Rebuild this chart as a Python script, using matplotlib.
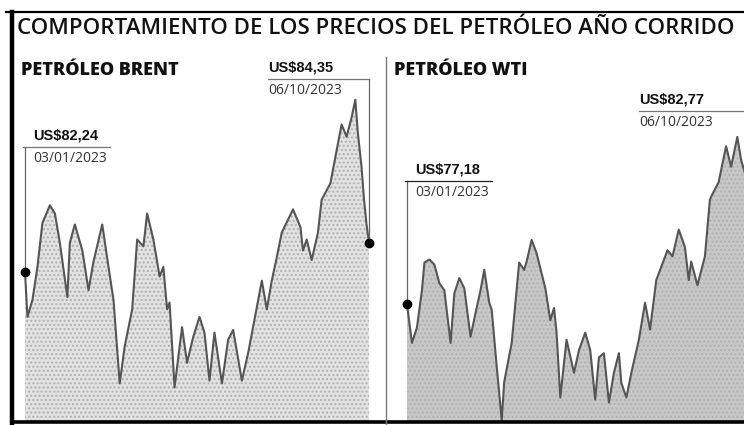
import matplotlib
matplotlib.use('Agg')
import matplotlib.pyplot as plt
from matplotlib.lines import Line2D
from matplotlib.transforms import blended_transform_factory

plt.rcParams['font.family'] = ['Open Sans', 'DejaVu Sans']

title = 'COMPORTAMIENTO DE LOS PRECIOS DEL PETRÓLEO AÑO CORRIDO'

# days counted from 03/01/2023, prices in US$ per barrel
brent_days = [0, 2, 6, 10, 14, 20, 24, 28, 34, 36, 40, 46, 51, 55, 62, 67, 71, 76, 80, 86,
              90, 95, 98, 103, 108, 111, 114, 116, 120, 126, 130, 135, 140, 144, 148, 152,
              158, 163, 167, 174, 179, 184, 190, 194, 198, 202, 206, 215, 221, 223, 226,
              230, 235, 238, 245, 250, 254, 258, 262, 265, 267, 270, 272, 274, 276]
brent_usd = [82.24, 78.95, 80.19, 82.6, 85.8, 87.1, 86.5, 84.35, 80.4, 84.35, 85.7, 83.8,
             80.9, 83.0, 85.7, 82.6, 80.2, 74.1, 76.8, 79.5, 84.6, 84.1, 86.5, 84.6, 81.9,
             82.6, 79.5, 80.0, 73.8, 78.2, 75.6, 77.5, 78.95, 77.8, 74.3, 77.8, 74.1, 77.3,
             78.0, 74.3, 76.3, 78.7, 81.6, 79.5, 81.6, 83.3, 85.1, 86.8, 85.5, 83.8, 84.6,
             83.1, 85.1, 87.5, 88.7, 91.1, 93.0, 92.1, 93.5, 94.8, 92.4, 89.9, 87.5, 85.7,
             84.35]

wti_days = [0, 4, 8, 12, 14, 18, 22, 26, 30, 35, 38, 42, 46, 51, 55, 59, 62, 66, 68, 72,
            76, 78, 84, 90, 94, 96, 100, 104, 111, 115, 118, 120, 123, 128, 134, 138, 143,
            147, 151, 154, 158, 162, 166, 170, 172, 176, 180, 186, 191, 195, 200, 209, 213,
            218, 223, 226, 228, 233, 239, 243, 244, 250, 256, 260, 265, 268, 272, 274, 276]
wti_usd = [77.18, 73.4, 74.9, 78.5, 81.2, 81.5, 81.0, 79.2, 78.5, 73.4, 78.2, 79.7, 78.7,
           74.0, 76.3, 78.5, 80.5, 77.3, 76.6, 71.1, 65.9, 69.6, 73.4, 81.2, 80.5, 81.3,
           83.4, 82.1, 78.7, 75.6, 76.8, 74.4, 68.1, 73.7, 70.5, 72.7, 74.4, 72.7, 67.9,
           72.0, 72.4, 67.6, 70.5, 72.4, 69.5, 68.1, 70.5, 73.7, 77.3, 74.7, 79.5, 82.4,
           81.8, 84.4, 82.7, 79.5, 81.3, 79.0, 81.8, 87.3, 87.6, 89.0, 92.5, 90.5, 93.4,
           91.2, 89.5, 86.0, 82.77]

first_date = '03/01/2023'
last_date = '06/10/2023'

W, H = 744, 425
fig = plt.figure(figsize=(W / 100, H / 100), dpi=100)
fig.patch.set_facecolor('white')


def px_axes(x0, y0, x1, y1):
    return fig.add_axes([x0 / W, 1 - y1 / H, (x1 - x0) / W, (y1 - y0) / H])


def fig_line(xs, ys, **kw):
    fig.add_artist(Line2D([x / W for x in xs], [1 - y / H for y in ys],
                          transform=fig.transFigure, **kw))


def price_label(ax, day, usd, date, text_day, line_y, line_x0, line_x1, line_color):
    lo, hi = ax.get_ylim()
    tr = blended_transform_factory(ax.transData, ax.transAxes)
    frac = (usd - lo) / (hi - lo)
    ax.plot([day, day], [frac, line_y], transform=tr, color='#666666', lw=0.9,
            clip_on=False, zorder=4)
    ax.plot([line_x0, line_x1], [line_y, line_y], transform=tr, color=line_color,
            lw=0.9, clip_on=False, zorder=4)
    ax.plot(day, usd, 'o', color='black', ms=6, zorder=5, clip_on=False)
    ax.annotate('US$' + f'{usd:.2f}'.replace('.', ','), xy=(text_day, line_y),
                xycoords=tr, xytext=(0, 3), textcoords='offset points',
                ha='left', va='bottom', fontsize=10.5, fontweight='bold',
                family=['Liberation Sans', 'DejaVu Sans'], color='#111111')
    ax.annotate(date, xy=(text_day, line_y), xycoords=tr, xytext=(0, -3),
                textcoords='offset points', ha='left', va='top', fontsize=10,
                color='#333333')


def panel(ax, days, usd, ylim, fill, name, title_x):
    ax.set_xlim(-8.8, 284.8)
    ax.set_ylim(*ylim)
    ax.fill_between(days, usd, ylim[0], color=fill, lw=0, hatch='....',
                    edgecolor='#b0b0b0')
    ax.plot(days, usd, color='#555555', lw=1.5)
    ax.axis('off')
    ax.text(title_x, 0.97, name, transform=ax.transAxes, ha='left', va='center',
            fontsize=13, fontweight='heavy', color='#111111')


# Brent
ax1 = px_axes(14, 60, 380, 422)
panel(ax1, brent_days, brent_usd, (71.28, 97.7), '#e2e2e2', 'PETRÓLEO BRENT', 0.02)
price_label(ax1, brent_days[0], brent_usd[0], first_date, 6.5, 0.76, -1.5, 68, '#777777')
price_label(ax1, brent_days[-1], brent_usd[-1], last_date, 195, 0.9475, 195,
            brent_days[-1], '#777777')

# WTI (panel runs past the right edge of the page)
ax2 = px_axes(396, 60, 762, 422)
panel(ax2, wti_days, wti_usd, (65.72, 100.87), '#c8c8c8', 'PETRÓLEO WTI', -0.005)
price_label(ax2, wti_days[0], wti_usd[0], first_date, 6.5, 0.666, -1.5, 68, '#222222')
price_label(ax2, wti_days[-1], wti_usd[-1], last_date, 186, 0.859, 186, wti_days[-1],
            '#777777')

# frame
fig.text(17 / W, 1 - 28 / H, title, ha='left', va='center', fontsize=16,
         fontweight='semibold', color='#111111')
fig_line([6, 744], [12, 12], color='black', lw=1.6)
fig_line([12, 12], [12, 425], color='black', lw=3.2)
fig_line([12, 744], [422, 422], color='black', lw=2.6)
fig_line([386, 386], [57, 425], color='#777777', lw=1.0)

fig.savefig('out.png', dpi=100, facecolor='white')
